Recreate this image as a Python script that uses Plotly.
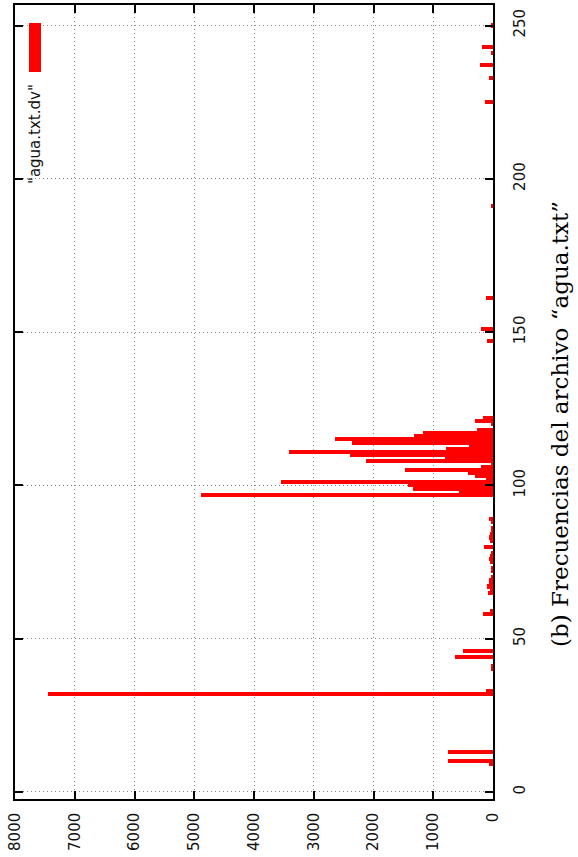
import plotly.graph_objects as go

# byte codes (character values) and their frequencies
codes = [9, 10, 13, 32, 33, 40, 41, 44, 46, 58, 59,
         65, 66, 67, 68, 69, 70, 72, 73, 75, 76, 77, 78, 80, 82, 83, 84, 85, 86, 88, 89,
         97, 98, 99, 100, 101, 102, 103, 104, 105, 106, 107, 108, 109, 110, 111,
         112, 113, 114, 115, 116, 117, 118, 120, 121, 122,
         147, 151, 161, 191, 225, 233, 237, 241, 243, 250]
freqs = [70, 750, 745, 7440, 110, 20, 20, 628, 495, 160, 50,
         80, 55, 95, 70, 60, 25, 20, 30, 50, 60, 55, 20, 145, 50, 60, 45, 35, 30, 20, 60,
         4890, 567, 1333, 1417, 3540, 120, 306, 417, 1480, 200, 20, 2130, 800, 2390, 3420,
         780, 400, 2360, 2640, 1317, 1167, 267, 30, 306, 167,
         100, 205, 117, 22, 140, 72, 210, 40, 183, 25]

x_ticks = [0, 1000, 2000, 3000, 4000, 5000, 6000, 7000, 8000]
y_ticks = [0, 50, 100, 150, 200, 250]
series_name = '"agua.txt.dv"'
caption = "(b) Frecuencias del archivo “agua.txt”"

fig = go.Figure()
fig.add_trace(go.Bar(
    x=freqs, y=codes, orientation="h", width=1.35,
    marker=dict(color="#ff0000", line=dict(width=0)),
    showlegend=False,
))

tickfont = dict(family="DejaVu Sans", size=15, color="#111")
fig.update_layout(
    width=578, height=857,
    margin=dict(l=15, r=85, t=5, b=58, autoexpand=False),
    paper_bgcolor="white", plot_bgcolor="white",
    bargap=0,
    xaxis=dict(
        range=[8000, 0], tickvals=x_ticks, tickangle=-90, automargin=False,
        ticks="inside", ticklen=8, tickwidth=1.5, tickcolor="black",
        showline=True, linecolor="black", linewidth=1.5, mirror="ticks",
        showgrid=True, gridcolor="#8a8a8a", gridwidth=1, griddash="1px,3px",
        zeroline=False, tickfont=tickfont, ticklabelstandoff=6,
    ),
    yaxis=dict(
        range=[-2.3, 256.7], tickvals=y_ticks, tickangle=-90, side="right",
        automargin=False,
        ticks="inside", ticklen=8, tickwidth=1.5, tickcolor="black",
        showline=True, linecolor="black", linewidth=1.5, mirror="ticks",
        showgrid=True, gridcolor="#8a8a8a", gridwidth=1, griddash="1px,3px",
        zeroline=False, tickfont=tickfont, ticklabelstandoff=12,
    ),
)

# legend key (rotated chart)
fig.add_shape(type="rect", xref="paper", yref="paper",
              x0=0.0293, x1=0.0544, y0=0.9156, y1=0.9773,
              fillcolor="#ff0000", line=dict(width=0))
fig.add_annotation(xref="paper", yref="paper", x=0.0418, y=0.8375,
                   text=series_name, textangle=-90, showarrow=False,
                   xanchor="center", yanchor="middle",
                   font=dict(family="DejaVu Sans", size=15, color="#111"))
fig.add_annotation(xref="paper", yref="paper", x=1.14, y=0.4723,
                   text=caption, textangle=-90, showarrow=False,
                   xanchor="center", yanchor="middle",
                   font=dict(family="DejaVu Serif", size=23, color="black"))

fig.write_html("out.html", config={"displayModeBar": False},
               post_script="document.body.style.margin='0';document.body.style.overflow='hidden';")
